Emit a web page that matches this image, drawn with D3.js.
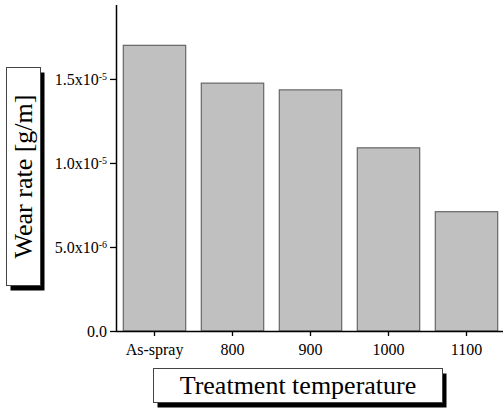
<!DOCTYPE html>
<html>
<head>
<meta charset="utf-8">
<script src="https://cdn.jsdelivr.net/npm/d3@7"></script>
<style>
  body { margin: 0; background: #fff; }
  svg text { font-family: "Liberation Serif", "Times New Roman", "DejaVu Serif", serif; fill: #000; }
</style>
</head>
<body>
<div id="chart"></div>
<script>
// data
var categories = ["As-spray", "800", "900", "1000", "1100"];
var wearRate = [1.70e-5, 1.475e-5, 1.435e-5, 1.09e-5, 0.71e-5];
var yTicks = [0, 5e-6, 1e-5, 1.5e-5];
var yTickLabels = [["0.0", ""], ["5.0x10", "-6"], ["1.0x10", "-5"], ["1.5x10", "-5"]];

var width = 503, height = 408;
var serif = '"Liberation Serif", "Times New Roman", serif';

var svg = d3.select("#chart").append("svg")
    .attr("width", width)
    .attr("height", height);

// scales
var x = d3.scaleBand()
    .domain(categories)
    .range([115.5, 505.5])
    .paddingInner(0.2)
    .paddingOuter(0.1);

var y = d3.scaleLinear()
    .domain([0, 1.94e-5])
    .range([331, 5]);

// bars
svg.selectAll(".bar")
    .data(wearRate)
    .enter().append("rect")
    .attr("class", "bar")
    .attr("x", function (d, i) { return x(categories[i]); })
    .attr("y", function (d) { return y(d); })
    .attr("width", x.bandwidth())
    .attr("height", function (d) { return y(0) - y(d); })
    .style("fill", "#c0c0c0")
    .style("stroke", "#666")
    .style("stroke-width", 1.2);

// x axis
var xAxis = svg.append("g")
    .attr("transform", "translate(0,331)")
    .call(d3.axisBottom(x).tickSize(5).tickSizeOuter(0))
    .attr("font-family", serif)
    .attr("font-size", 16);
xAxis.select(".domain").attr("d", "M116,0.5H503").attr("stroke", "#000").attr("stroke-width", 1.5);
xAxis.selectAll(".tick line").attr("stroke-width", 1.3);
xAxis.selectAll(".tick text")
    .attr("y", 10)
    .attr("dy", "0.9em")
    .style("font-family", serif)
    .style("font-size", "16px");

// y axis
var yAxis = svg.append("g")
    .attr("transform", "translate(116,0)")
    .call(d3.axisLeft(y).tickValues(yTicks).tickSize(6).tickSizeOuter(0).tickFormat(""))
    .attr("font-family", serif)
    .attr("font-size", 16);
yAxis.select(".domain").attr("d", "M0.5,5V331").attr("stroke", "#000").attr("stroke-width", 1.5);
yAxis.selectAll(".tick line").attr("stroke-width", 1.3);

var yLab = yAxis.selectAll(".tick").append("text")
    .attr("x", -9)
    .attr("dy", "0.35em")
    .attr("text-anchor", "end")
    .style("font-family", serif)
    .style("font-size", "16px");
yLab.append("tspan").text(function (d, i) { return yTickLabels[i][0]; });
yLab.append("tspan")
    .attr("dy", "-0.5em")
    .style("font-size", "10px")
    .text(function (d, i) { return yTickLabels[i][1]; });

// boxed axis titles with drop shadow
function boxedTitle(bx, by, bw, bh) {
    var g = svg.append("g");
    g.append("rect")
        .attr("x", bx + 4).attr("y", by + 5)
        .attr("width", bw).attr("height", bh)
        .style("fill", "#000");
    g.append("rect")
        .attr("x", bx).attr("y", by)
        .attr("width", bw).attr("height", bh)
        .style("fill", "#fff")
        .style("stroke", "#444")
        .style("stroke-width", 1);
    return g;
}

boxedTitle(6.5, 67.5, 34, 218)
    .append("text")
    .attr("transform", "translate(32,176.5) rotate(-90)")
    .attr("text-anchor", "middle")
    .style("font-family", serif)
    .style("font-size", "26px")
    .text("Wear rate [g/m]");

boxedTitle(153.5, 368.5, 289, 34)
    .append("text")
    .attr("x", 298)
    .attr("y", 394)
    .attr("text-anchor", "middle")
    .style("font-family", serif)
    .style("font-size", "26px")
    .text("Treatment temperature");
</script>
</body>
</html>
